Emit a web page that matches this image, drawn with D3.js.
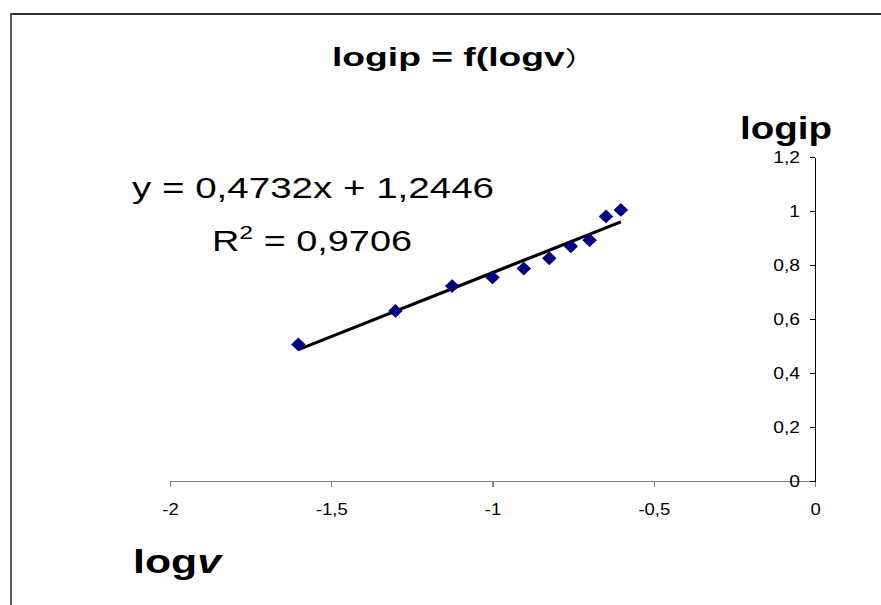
<!DOCTYPE html>
<html>
<head>
<meta charset="utf-8">
<script src="https://cdn.jsdelivr.net/npm/d3@7"></script>
<style>
  html, body { margin: 0; padding: 0; background: #fff; }
  svg { display: block; }
  text { font-family: "Liberation Sans", Arial, sans-serif; fill: #000; }
</style>
</head>
<body>
<svg id="chart" width="881" height="605"></svg>
<script>
// ---- data ----
const logV = [-1.602, -1.301, -1.125, -1.0, -0.903, -0.824, -0.757, -0.699, -0.648, -0.602];
const logIp = [0.506, 0.630, 0.722, 0.754, 0.787, 0.825, 0.869, 0.892, 0.980, 1.004];
const trendSlope = [0.4732];
const trendIntercept = [1.2446];
const rSquared = ["0,9706"];
const xTicks = [-2, -1.5, -1, -0.5, 0];
const yTicks = [0, 0.2, 0.4, 0.6, 0.8, 1, 1.2];
const titleText = "logip = f(logv";
const titleClose = "）";
const yTitle = "logip";
const xTitle = ["log", "v"];
const eqText = "y = 0,4732x + 1,2446";

const fmt = v => String(v).replace(".", ",");

const svg = d3.select("#chart");

function stretch(sel, k) {
  sel.each(function () {
    const w = this.getComputedTextLength();
    d3.select(this).attr("textLength", w * k).attr("lengthAdjust", "spacingAndGlyphs");
  });
}

// frame
svg.append("line").attr("x1", 11).attr("x2", 881).attr("y1", 14).attr("y2", 14)
  .attr("stroke", "#333").attr("stroke-width", 2);
svg.append("line").attr("x1", 11).attr("x2", 11).attr("y1", 13).attr("y2", 605)
  .attr("stroke", "#333").attr("stroke-width", 1.6);

// scales
const x = d3.scaleLinear().domain([-2, 0]).range([170, 815]);
const y = d3.scaleLinear().domain([0, 1.2]).range([481, 157]);

// x axis
const xAxis = svg.append("g").attr("transform", `translate(0,${y(0)})`)
  .call(d3.axisBottom(x).tickValues(xTicks).tickSize(6).tickSizeOuter(0).tickFormat(fmt));
xAxis.select(".domain").attr("stroke", "#808080").attr("stroke-width", 1.3);
xAxis.selectAll(".tick line").attr("stroke", "#808080").attr("stroke-width", 1.3);
xAxis.selectAll(".tick text").attr("y", 0).attr("dy", 0).attr("transform", "translate(0,34)")
  .style("font-size", "16px").attr("fill", "#000");
stretch(xAxis.selectAll(".tick text"), 1.15);

// y axis
const yAxis = svg.append("g").attr("transform", `translate(${x(0)},0)`)
  .call(d3.axisLeft(y).tickValues(yTicks).tickSize(5).tickSizeOuter(0).tickFormat(fmt));
yAxis.select(".domain").attr("stroke", "#000").attr("stroke-width", 1.2);
yAxis.selectAll(".tick line").attr("stroke", "#000").attr("stroke-width", 1.2);
yAxis.selectAll(".tick text").attr("x", -15).attr("dy", "0.36em")
  .style("font-size", "16px").attr("fill", "#000");
stretch(yAxis.selectAll(".tick text"), 1.2);
svg.selectAll(".domain, .tick line").attr("shape-rendering", "crispEdges");

// trendline
const xr = d3.extent(logV);
const tl = xr.map(v => [v, trendSlope[0] * v + trendIntercept[0]]);
svg.append("path")
  .attr("d", d3.line().x(d => x(d[0])).y(d => y(d[1]))(tl))
  .attr("stroke", "#000").attr("stroke-width", 3.2).attr("fill", "none");

// points (diamonds)
const dia = d3.symbol().type({ draw(ctx, size) { const r = Math.sqrt(size) / 2; ctx.moveTo(0, -r * 0.95); ctx.lineTo(r, 0); ctx.lineTo(0, r * 0.95); ctx.lineTo(-r, 0); ctx.closePath(); } }).size(210);
svg.append("g").selectAll("path").data(logV.map((v, i) => [v, logIp[i]])).join("path")
  .attr("d", dia)
  .attr("transform", d => `translate(${x(d[0])},${y(d[1])})`)
  .attr("fill", "#000080");

// title
const title = svg.append("text").attr("x", 332).attr("y", 66)
  .style("font-size", "25px").style("font-weight", "bold")
  .attr("textLength", 264).attr("lengthAdjust", "spacingAndGlyphs");
title.append("tspan").text(titleText);
title.append("tspan").text(titleClose).style("font-family", "'Noto Sans CJK SC'").style("font-size", "21px").style("font-weight", "normal");

// equation
svg.append("text").attr("x", 132).attr("y", 198).style("font-size", "29px")
  .attr("textLength", 362).attr("lengthAdjust", "spacingAndGlyphs").text(eqText);
const r2 = svg.append("text").attr("x", 212).attr("y", 251).style("font-size", "29px")
  .attr("textLength", 200).attr("lengthAdjust", "spacingAndGlyphs");
r2.append("tspan").text("R");
r2.append("tspan").attr("dy", -12).style("font-size", "19px").text("2");
r2.append("tspan").attr("dy", 12).text(" = " + rSquared[0]);

// axis titles
svg.append("text").attr("x", 740).attr("y", 139).style("font-size", "31px").style("font-weight", "bold")
  .attr("textLength", 92).attr("lengthAdjust", "spacingAndGlyphs").text(yTitle);
const xt = svg.append("text").attr("x", 133).attr("y", 573).style("font-size", "34px").style("font-weight", "bold")
  .attr("textLength", 88).attr("lengthAdjust", "spacingAndGlyphs");
xt.append("tspan").text(xTitle[0]);
xt.append("tspan").style("font-style", "italic").text(xTitle[1]);
</script>
</body>
</html>
